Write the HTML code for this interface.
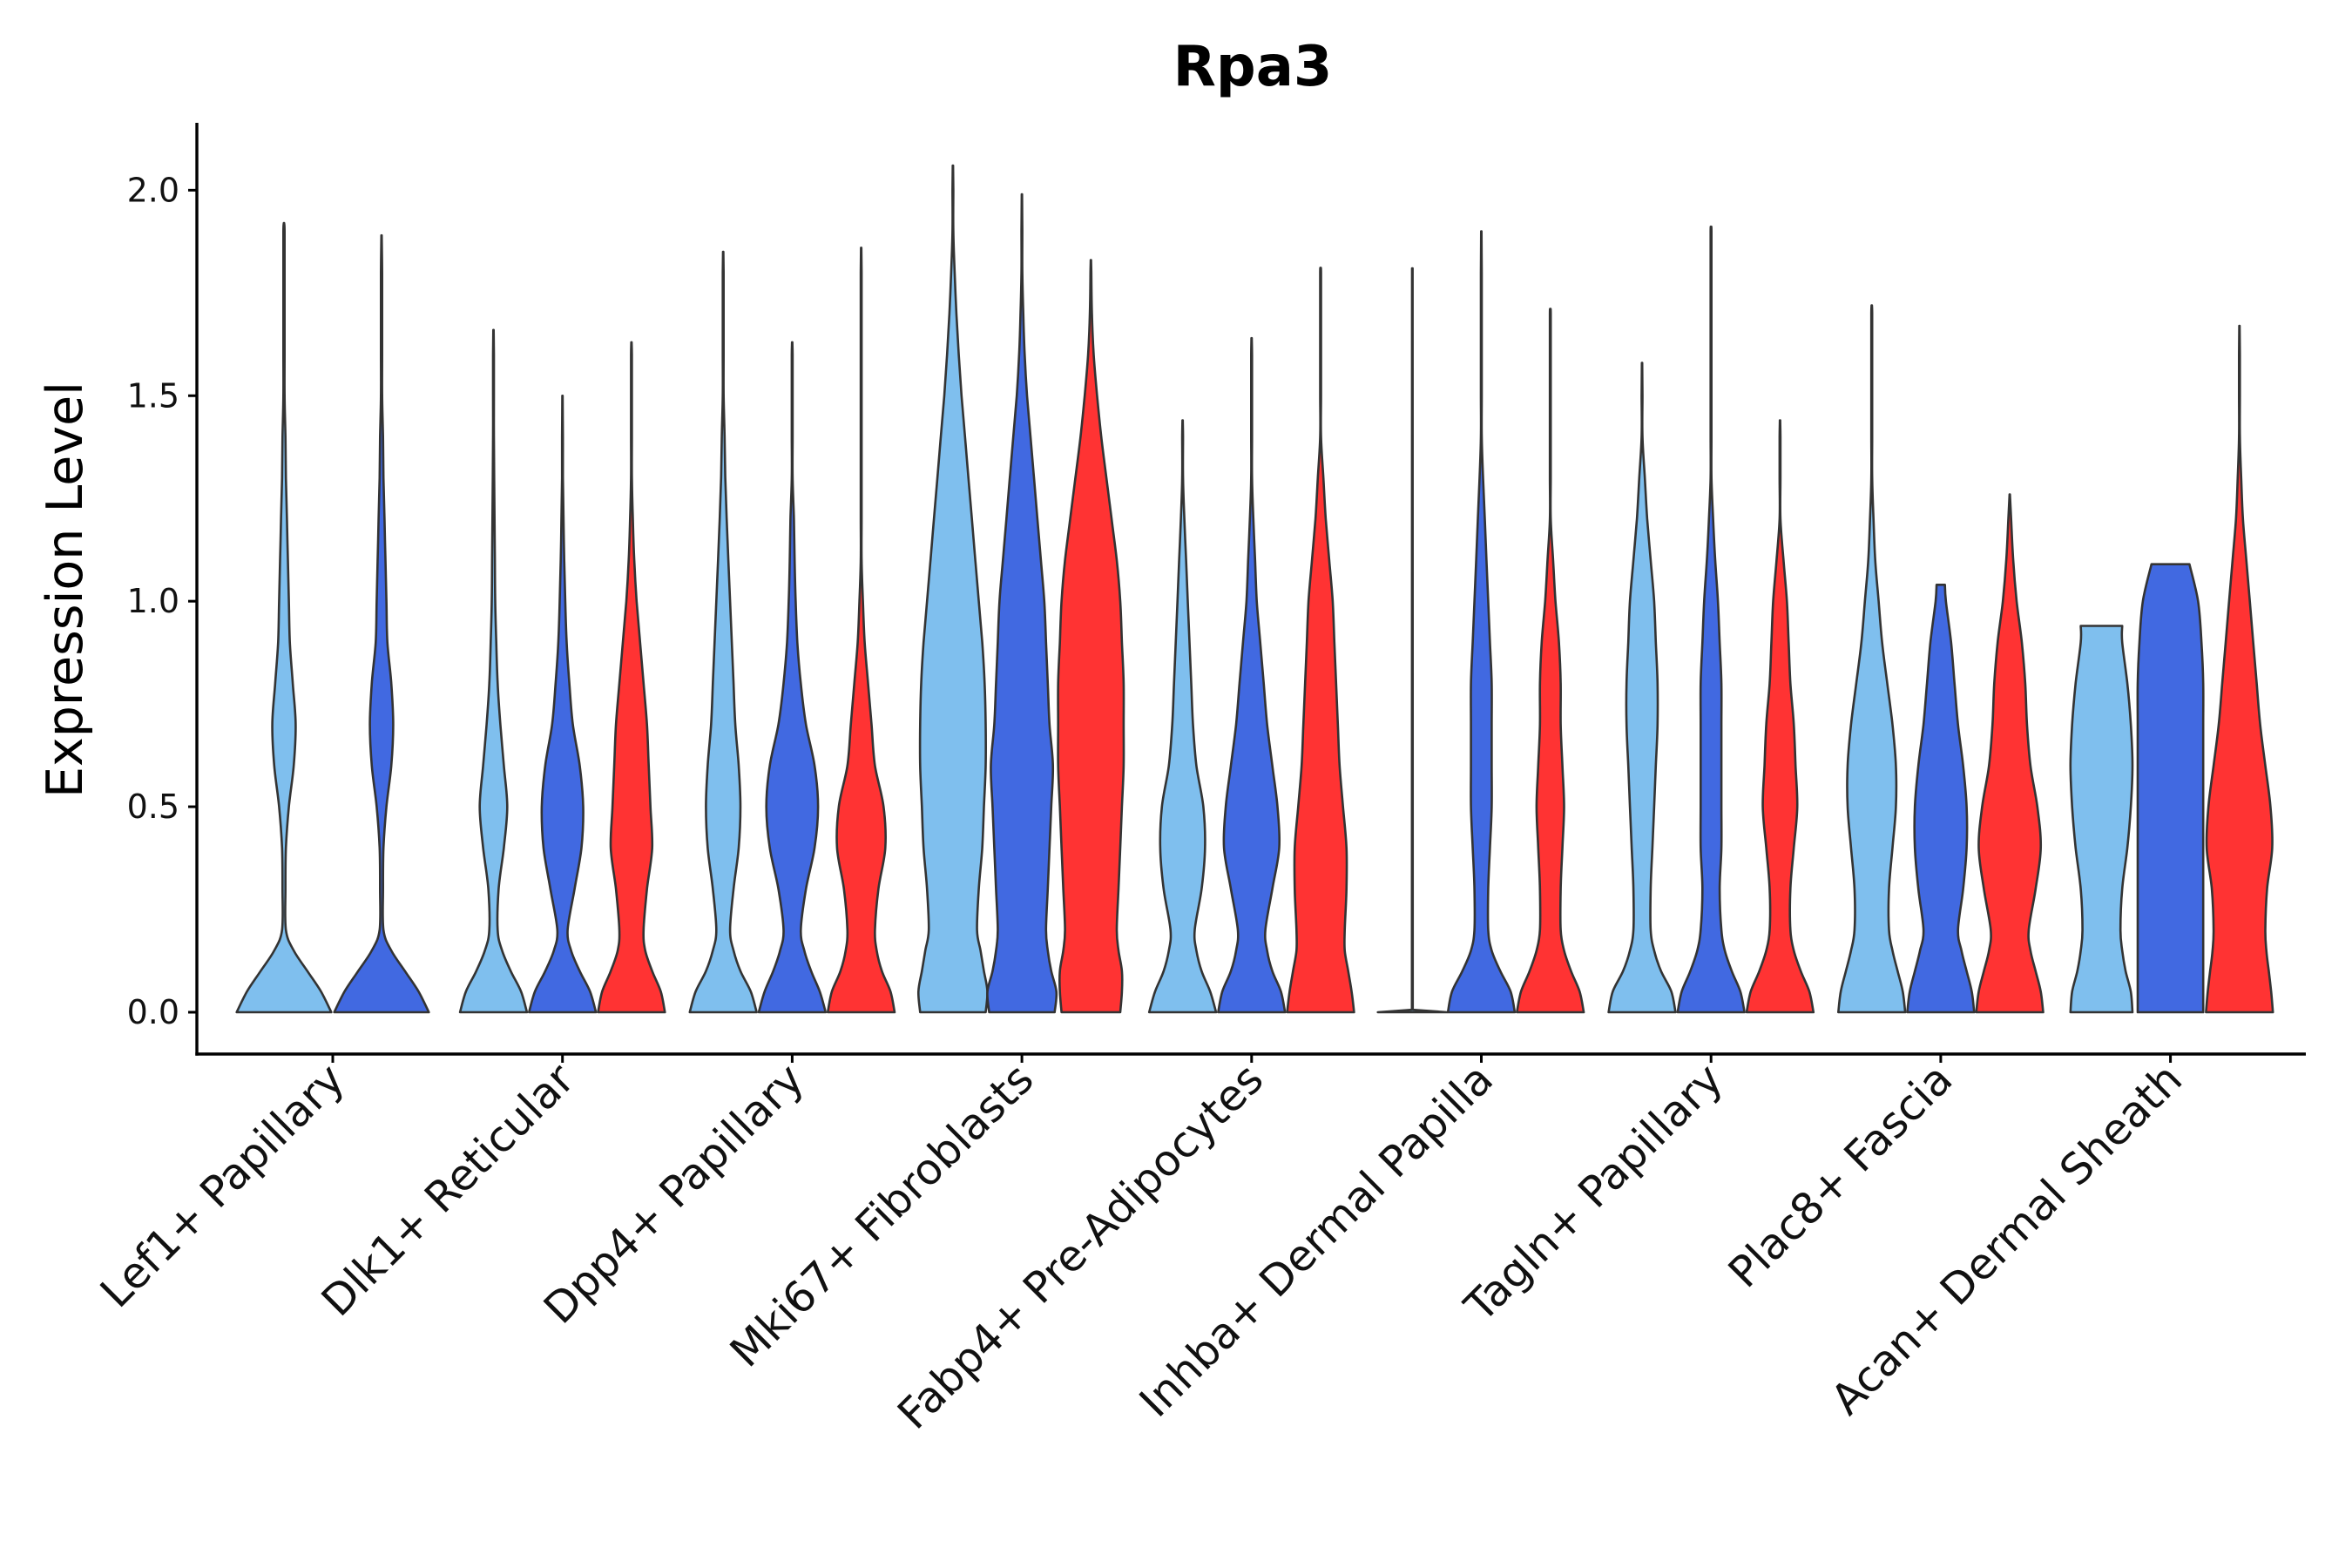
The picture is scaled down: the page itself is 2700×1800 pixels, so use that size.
<!DOCTYPE html>
<html><head><meta charset="utf-8"><style>
html,body{margin:0;padding:0;background:#fff;}
svg{display:block;font-family:"DejaVu Sans","Liberation Sans",sans-serif;}
</style></head><body>
<svg id="chart" width="2700" height="1800" viewBox="0 0 2700 1800" xmlns="http://www.w3.org/2000/svg">
<rect width="2700" height="1800" fill="#fff"/>
<text x="1438" y="98" text-anchor="middle" font-size="64" font-weight="bold">Rpa3</text>
<text transform="translate(94,677) rotate(-90)" text-anchor="middle" font-size="57">Expression Level</text>
<g id="violins"></g>
<g id="axes"></g>
</svg>
<script>
const categories = ["Lef1+ Papillary","Dlk1+ Reticular","Dpp4+ Papillary","Mki67+ Fibroblasts","Fabp4+ Pre-Adipocytes","Inhba+ Dermal Papilla","Tagln+ Papillary","Plac8+ Fascia","Acan+ Dermal Sheath"];
const yTicks = [0, 0.5, 1.0, 1.5, 2.0];
const yTickLabels = ["0.0","0.5","1.0","1.5","2.0"];
// per group: which series are present (0 light, 1 blue, 2 red)
const groupSeries = [[0,1],[0,1,2],[0,1,2],[0,1,2],[0,1,2],[0,1,2],[0,1,2],[0,1,2],[0,1,2]];
// max expression per violin
const violinMax = [[1.92,1.89],[1.66,1.50,1.63],[1.85,1.63,1.86],[2.06,1.99,1.83],[1.44,1.64,1.81],[1.81,1.90,1.71],[1.58,1.91,1.44],[1.72,1.04,1.26],[0.94,1.09,1.67]];
// width at top (truncated violins)
const violinTop = [[0,0],[0,0,0],[0,0,0],[0,0,0],[0,0,0],[0,0,0],[0,0,0],[0,0.12,0],[0.6,0.55,0]];
// density profiles (relative width) at y = 0, .05, .1, .15, .2, .3, .4, ...
const violinProfiles = [
 [[.97,.76,.48,.2,.04,.03,.04,.1,.2,.24,.18,.12,.1,.08,.06,.04,.03],[.97,.76,.48,.2,.04,.03,.04,.1,.2,.24,.2,.12,.1,.08,.06,.04,.03]],
 [[.97,.8,.5,.25,.12,.15,.3,.4,.3,.2,.12,.08,.05,.04,.03,.02],[.97,.8,.5,.25,.15,.35,.55,.6,.5,.3,.2,.12,.08,.05,.03],[.97,.85,.6,.4,.35,.45,.6,.55,.5,.45,.35,.25,.15,.08,.04]],
 [[.97,.8,.5,.3,.2,.3,.45,.5,.45,.35,.3,.25,.2,.15,.1,.06,.04],[.97,.8,.55,.35,.25,.4,.65,.75,.65,.4,.25,.15,.1,.07,.05],[.97,.85,.6,.45,.4,.5,.7,.65,.4,.3,.2,.1,.05]],
 [[.95,1,.9,.8,.7,.75,.85,.9,.95,.95,.92,.85,.75,.65,.55,.45,.35,.25,.17,.1,.05],[.95,1,.85,.75,.7,.75,.8,.85,.9,.8,.75,.7,.65,.55,.45,.35,.25,.15,.08,.04],[.85,.9,.9,.8,.75,.8,.85,.9,.95,.95,.95,.9,.85,.75,.6,.45,.3,.18,.08,.03]],
 [[.97,.8,.55,.4,.35,.55,.65,.6,.4,.3,.25,.2,.15,.1,.05],[.97,.85,.6,.45,.4,.6,.8,.75,.6,.45,.35,.25,.15,.1,.05],[.97,.9,.8,.7,.7,.75,.75,.65,.55,.5,.45,.4,.35,.25,.15,.08]],
 [[1],[.97,.85,.55,.3,.2,.2,.25,.3,.3,.3,.3,.25,.2,.15,.1,.05],[.97,.85,.6,.4,.3,.3,.35,.4,.35,.3,.3,.25,.15,.08]],
 [[.97,.85,.55,.35,.25,.25,.3,.35,.4,.45,.45,.4,.35,.25,.15,.08],[.97,.85,.6,.4,.3,.25,.3,.3,.3,.3,.3,.25,.2,.12,.06],[.97,.85,.6,.4,.3,.3,.4,.5,.45,.4,.3,.25,.2,.1]],
 [[.97,.9,.75,.6,.5,.5,.6,.7,.7,.6,.45,.3,.2,.1,.05],[.97,.9,.75,.6,.5,.65,.75,.75,.65,.5,.4,.3,.15],[.97,.9,.75,.6,.55,.75,.9,.8,.6,.5,.45,.35,.2,.1,.04]],
 [[.9,.85,.7,.6,.55,.6,.75,.85,.9,.85,.75,.6],[.95,.95,.95,.95,.95,.95,.95,.95,.95,.95,.95,.9,.8],[.97,.92,.85,.78,.75,.8,.95,.9,.75,.6,.5,.4,.3,.2,.1,.05]]
];
const flatViolin = [[false,false],[false,false,false],[false,false,false],[false,false,false],[false,false,false],[true,false,false],[false,false,false],[false,false,false],[false,false,false]];
const colors = ["#7fbfee","#4169e1","#ff3333"];

const NS = "http://www.w3.org/2000/svg";
const axisX = 226, plotRight = 2647, axisY = 1210, axisTop = 141;
const y0 = 1162, yPerUnit = 274*1.722;
function yScale(v){ return y0 - v*yPerUnit; }
const catStart = 382, catStep = 263.7;
function xScale(i){ return catStart + i*catStep; }
function gridY(i){ return i<5 ? i*0.05 : 0.2+(i-4)*0.1; }

function mk(tag, attrs, parent){ const e=document.createElementNS(NS,tag); for(const k in attrs) e.setAttribute(k,attrs[k]); parent.appendChild(e); return e; }

function crPath(pts){
  let d = `M${pts[0][0].toFixed(1)},${pts[0][1].toFixed(1)}`;
  for(let i=0;i<pts.length-1;i++){
    const p0=pts[Math.max(0,i-1)],p1=pts[i],p2=pts[i+1],p3=pts[Math.min(pts.length-1,i+2)];
    const c1=[p1[0]+(p2[0]-p0[0])/6,p1[1]+(p2[1]-p0[1])/6];
    const c2=[p2[0]-(p3[0]-p1[0])/6,p2[1]-(p3[1]-p1[1])/6];
    d+=` C${c1[0].toFixed(1)},${c1[1].toFixed(1)} ${c2[0].toFixed(1)},${c2[1].toFixed(1)} ${p2[0].toFixed(1)},${p2[1].toFixed(1)}`;
  }
  return d;
}

const vg = document.getElementById('violins');
categories.forEach((cat,gi)=>{
  const series = groupSeries[gi];
  const n = series.length;
  const off = n===3 ? 79.2 : 112;
  const hw = n===3 ? 39.6 : 56;
  series.forEach((s,k)=>{
    const cx = xScale(gi) + (k-(n-1)/2)*off;
    const mx = violinMax[gi][k];
    const prof = violinProfiles[gi][k];
    const top = violinTop[gi][k] || 0;
    let side = [];
    if(flatViolin[gi][k]){
      side.push([0,prof[0]]); side.push([0.006,0.012]); side.push([mx,0.008]);
    } else {
      for(let i=0;gridY(i)<mx-1e-6;i++){
        side.push([gridY(i), i<prof.length ? prof[i] : 0.012]);
      }
      side.push([mx, top>0 ? top : 0.004]);
    }
    const right = side.map(p=>[cx+p[1]*hw, yScale(p[0])]);
    const left = side.slice().reverse().map(p=>[cx-p[1]*hw, yScale(p[0])]);
    let d;
    if(flatViolin[gi][k]){
      d = "M"+right.map(p=>p.join(",")).join(" L")+" L"+left.map(p=>p.join(",")).join(" L")+" Z";
    } else {
      d = crPath(right) + " L" + crPath(left).slice(1) + " Z";
    }
    const p = mk('path',{d:d,fill:colors[s],stroke:"#333",'stroke-width':2.6,'stroke-linejoin':'round'},vg);
    
    
  });
});

const ag = document.getElementById('axes');
const yl = mk('line',{x1:axisX,y1:axisTop,x2:axisX,y2:axisY+1.7,stroke:"#000",'stroke-width':3.4},ag);


const xl = mk('line',{x1:axisX-1.7,y1:axisY,x2:plotRight,y2:axisY,stroke:"#000",'stroke-width':3.4},ag);


yTicks.forEach((v,i)=>{
  const y=yScale(v);
  const t=mk('line',{x1:axisX-10,y1:y,x2:axisX,y2:y,stroke:"#000",'stroke-width':3},ag);
  
  
  const tx=mk('text',{x:axisX-20,y:y+13,'text-anchor':'end','font-size':38,fill:"#111"},ag);
  tx.textContent=yTickLabels[i];
  
  
});
categories.forEach((c,i)=>{
  const x=xScale(i);
  const t=mk('line',{x1:x,y1:axisY,x2:x,y2:axisY+10,stroke:"#000",'stroke-width':3},ag);
  
  
  const tx=mk('text',{transform:`translate(${x+16},${axisY+32}) rotate(-45)`,'text-anchor':'end','font-size':49,fill:"#111"},ag);
  tx.textContent=c;
  
  
});
</script>
</body></html>
